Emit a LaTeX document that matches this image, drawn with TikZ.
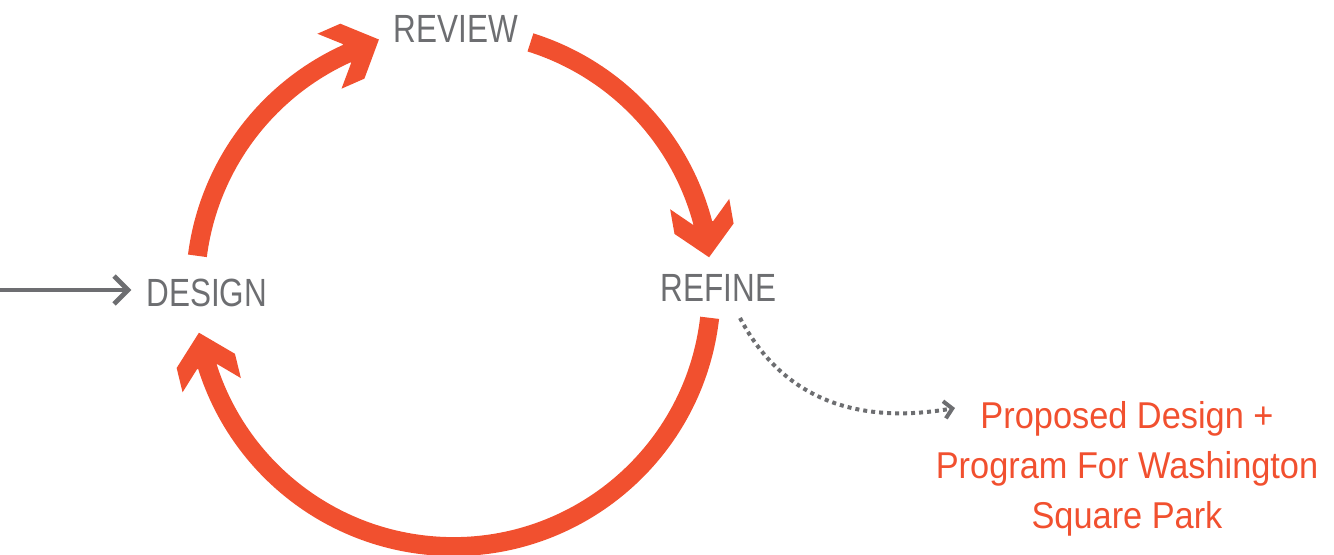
\documentclass[tikz,border=0pt]{standalone}
\usepackage{fontspec}
\setmainfont{Liberation Sans}
\newfontfamily\graylabelfont[FakeStretch=0.8]{Liberation Sans}
\newfontfamily\redlabelfont[FakeStretch=0.92]{Liberation Sans}
\usetikzlibrary{arrows.meta}
\definecolor{cycred}{HTML}{F1502F}
\definecolor{cycgray}{HTML}{6D6E71}
\newcommand\cychead[2]{\fill[headshape, shift={(#1)}, rotate=#2] (32,0) -- (3,30) -- (-22,30) -- (-3,10.5) -- (-3,-10.5) -- (-22,-30) -- (3,-30) -- cycle;}
\begin{document}
\begin{tikzpicture}[x=0.75pt,y=0.75pt,
  ring/.style={draw=cycred, line width=14.25pt, line cap=butt},
  headshape/.style={fill=cycred},
  stagelabel/.style={text=cycgray, inner sep=0pt, font=\graylabelfont\fontsize{29.5}{34}\selectfont},
  outlabel/.style={text=cycred, inner sep=0pt, align=center, font=\redlabelfont\fontsize{28}{37.5}\selectfont},
  inarrow/.style={draw=cycgray, line width=3.6pt, -{Straight Barb[length=10.5pt,width=21pt]}},
  dotarrow/.style={draw=cycgray, line width=3pt, dash pattern=on 3pt off 3pt, -{Straight Barb[length=6pt,width=13pt]}}
]
\useasboundingbox (0,0) rectangle (1334,554);
\coordinate (c) at (453.3,265.4);

% labels
\node[stagelabel] (review) at (456,525) {REVIEW};
\node[stagelabel] (design) at (206.7,261.5) {DESIGN};
\node[stagelabel] (refine) at (718.3,266.1) {REFINE};
\node[outlabel, anchor=north] (proposed) at (1127,152.8) {Proposed Design +\\Program For Washington\\Square Park};

% cycle arcs
\draw[ring] (c) ++(172.7:258) arc[start angle=172.7, end angle=113.7, radius=193.5pt];
\path (c) ++(113.7:258) coordinate (h1);
\cychead{h1}{23.7}

\draw[ring] (c) ++(72.6:258) arc[start angle=72.6, end angle=14.1, radius=193.5pt];
\path (c) ++(14.1:258) coordinate (h2);
\cychead{h2}{-80}

\draw[ring] (c) ++(-6.5:258) arc[start angle=-6.5, end angle=-163.05, radius=193.5pt];
\path (c) ++(-163.05:258) coordinate (h3);
\cychead{h3}{103.7}

% input arrow
\coordinate (instart) at (0,264);
\draw[inarrow, shorten >=11pt] (instart) -- (instart -| design.west);

% dotted output arrow
\coordinate (dotstart) at (740,236);
\coordinate (dotend) at (955,146);
\draw[dotarrow] (dotstart) .. controls (780,160) and (850,128) .. (dotend);
\end{tikzpicture}
\end{document}
